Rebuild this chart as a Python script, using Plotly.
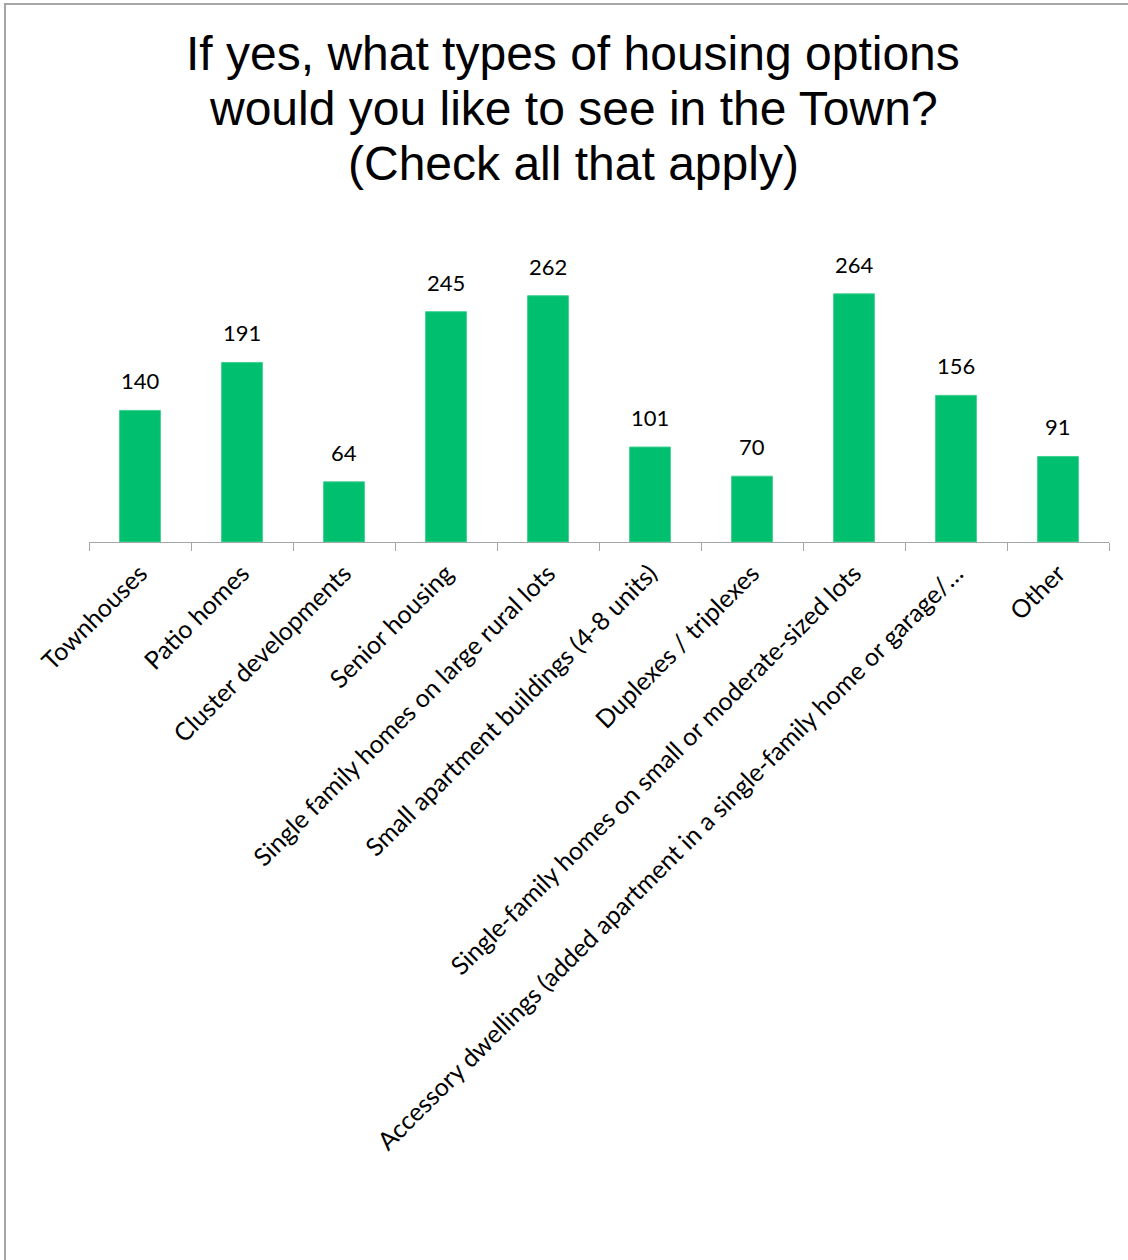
import plotly.graph_objects as go

# Survey responses per housing type
categories = [
    "Townhouses",
    "Patio homes",
    "Cluster developments",
    "Senior housing",
    "Single family homes on large rural lots",
    "Small apartment buildings (4-8 units)",
    "Duplexes / triplexes",
    "Single-family homes on small or moderate-sized lots",
    "Accessory dwellings (added apartment in a single-family home or garage/…",
    "Other",
]
responses = [140, 191, 64, 245, 262, 101, 70, 264, 156, 91]

title_lines = [
    "If yes, what types of housing options",
    "would you like to see in the Town?",
    "(Check all that apply)",
]

W, H = 1128, 1260
L, R, T, B = 89, 19, 260, 718  # plot-area margins in px
plot_w = W - L - R
plot_h = H - T - B


def px_to_paper_y(py):
    return (H - B - py) / plot_h


def px_to_paper_x(px):
    return (px - L) / plot_w


LABEL_FONT = "Lato, Calibri, sans-serif"
TITLE_FONT = "Liberation Sans, Arial, sans-serif"

fig = go.Figure(
    go.Bar(
        x=categories,
        y=responses,
        width=0.4,
        marker=dict(color="#00BF6F", line=dict(color="#3FD08F", width=1)),
        cliponaxis=False,
        hoverinfo="x+y",
    )
)

# Value labels above each bar
for cat, val in zip(categories, responses):
    fig.add_annotation(
        x=cat, y=val, xref="x", yref="y",
        text=str(val), showarrow=False,
        yanchor="bottom", yshift=14,
        font=dict(family=LABEL_FONT, size=22, color="#000000"),
    )

# Three-line centred title
for line, py in zip(title_lines, [53, 108, 163]):
    fig.add_annotation(
        x=px_to_paper_x(573), y=px_to_paper_y(py), xref="paper", yref="paper",
        text=line, showarrow=False, xanchor="center", yanchor="middle",
        font=dict(family=TITLE_FONT, size=48, color="#000000"),
    )

fig.update_layout(
    width=W,
    height=H,
    margin=dict(l=L, r=R, t=T, b=B),
    paper_bgcolor="white",
    plot_bgcolor="white",
    showlegend=False,
)

fig.update_xaxes(
    type="category",
    tickangle=-45,
    tickson="boundaries",
    ticks="outside",
    ticklen=8,
    tickwidth=1,
    tickcolor="#A6A6A6",
    showline=True,
    linecolor="#A6A6A6",
    linewidth=1,
    showgrid=False,
    ticklabelstandoff=6,
    tickfont=dict(family=LABEL_FONT, size=25, color="#000000"),
)
fig.update_yaxes(range=[0, 300], visible=False, showgrid=False)

# Chart frame (extends past the right and bottom edges of the page)
fig.add_shape(
    type="rect", xref="paper", yref="paper",
    x0=px_to_paper_x(5), x1=px_to_paper_x(W + 10),
    y0=px_to_paper_y(H + 10), y1=px_to_paper_y(4),
    line=dict(color="#A6A6A6", width=2), fillcolor="rgba(0,0,0,0)", layer="below",
)

fig.write_html("out.html")
